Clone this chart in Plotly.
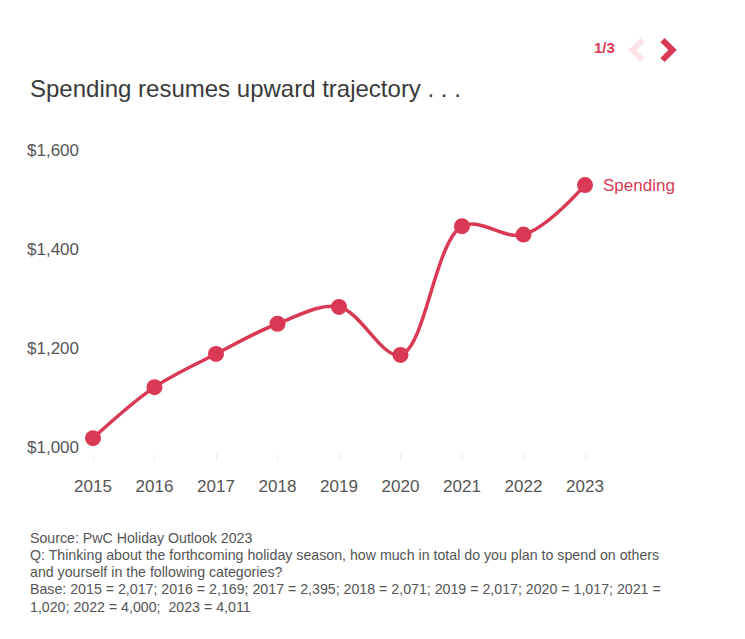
import plotly.graph_objects as go

years = [2015, 2016, 2017, 2018, 2019, 2020, 2021, 2022, 2023]
spending = [1018, 1121, 1188, 1249, 1283, 1186, 1446, 1429, 1529]
y_ticks = [1000, 1200, 1400, 1600]
y_tick_labels = ["$1,000", "$1,200", "$1,400", "$1,600"]
series_name = "Spending"
title_text = "Spending resumes upward trajectory . . ."
footnote_lines = [
    "Source: PwC Holiday Outlook 2023",
    "Q: Thinking about the forthcoming holiday season, how much in total do you plan to spend on others",
    "and yourself in the following categories?",
    "Base: 2015 = 2,017; 2016 = 2,169; 2017 = 2,395; 2018 = 2,071; 2019 = 2,017; 2020 = 1,017; 2021 =",
    "1,020; 2022 = 4,000;  2023 = 4,011",
]

RED = "#D93954"
PINK = "#FBE3E8"
FONT = "Liberation Sans, Arial, Helvetica, sans-serif"

OFF = 8  # page body margin
W, H = 745, 639
PL, PR, PT, PB = 83, 677, 145, 452  # plot area in page pixels
L = PL - OFF
T = PT - OFF
R = W - (PR - OFF)
B = H - (PB - OFF)
pw = PR - PL
ph = PB - PT


def px_x(px):
    return (px - PL) / pw


def px_y(py):
    return (PB - py) / ph


fig = go.Figure()
fig.add_trace(go.Scatter(
    x=years, y=spending, mode="lines+markers", name=series_name,
    line=dict(color=RED, width=3.5, shape="spline", smoothing=1.0),
    marker=dict(color=RED, size=16),
    cliponaxis=False, hoverinfo="x+y",
))

fig.add_annotation(
    x=years[-1], y=spending[-1], xref="x", yref="y", text=series_name,
    showarrow=False, xanchor="left", yanchor="middle", xshift=16,
    font=dict(family=FONT, size=17, color=RED),
)

fig.add_annotation(
    x=px_x(28), y=px_y(89), xref="paper", yref="paper", text=title_text,
    showarrow=False, xanchor="left", yanchor="middle",
    font=dict(family=FONT, size=24, color="#3a3a3a"),
)

line_gap = 17.3
for i, line in enumerate(footnote_lines):
    fig.add_annotation(
        x=px_x(28), y=px_y(537.5 + i * line_gap), xref="paper", yref="paper",
        text=line, align="left",
        showarrow=False, xanchor="left", yanchor="middle",
        font=dict(family=FONT, size=14.2, color="#555555"),
    )

fig.add_annotation(
    x=px_x(604), y=px_y(47), xref="paper", yref="paper", text="<b>1/3</b>",
    showarrow=False, xanchor="center", yanchor="middle",
    font=dict(family=FONT, size=15, color=RED),
)

# chevrons
fig.add_shape(type="path", xref="paper", yref="paper",
              xsizemode="pixel", ysizemode="pixel",
              xanchor=px_x(637), yanchor=px_y(50),
              path="M 5.5,10 L -4.5,0 L 5.5,-10",
              line=dict(color=PINK, width=6))
fig.add_shape(type="path", xref="paper", yref="paper",
              xsizemode="pixel", ysizemode="pixel",
              xanchor=px_x(668), yanchor=px_y(50),
              path="M -5.5,10 L 4.5,0 L -5.5,-10",
              line=dict(color=RED, width=6))

x_left = 2015 - (93 - PL) / 61.5
x_right = x_left + pw / 61.5

fig.update_layout(
    width=W, height=H,
    margin=dict(l=L, r=R, t=T, b=B),
    paper_bgcolor="white", plot_bgcolor="white",
    showlegend=False,
    font=dict(family=FONT, size=17, color="#555555"),
    xaxis=dict(
        range=[x_left, x_right], tickmode="array", tickvals=years,
        ticktext=[str(y) for y in years],
        showgrid=False, zeroline=False, showline=False,
        ticks="outside", ticklen=7, tickcolor="#eeeeee", tickwidth=1,
        ticklabelstandoff=12,
        tickfont=dict(family=FONT, size=17, color="#555555"),
    ),
    yaxis=dict(
        range=[990, 1610], tickmode="array", tickvals=y_ticks,
        ticktext=y_tick_labels,
        showgrid=False, zeroline=False, showline=False,
        ticks="", ticklabelstandoff=3,
        tickfont=dict(family=FONT, size=17, color="#555555"),
    ),
)

fig.write_html("out.html")
